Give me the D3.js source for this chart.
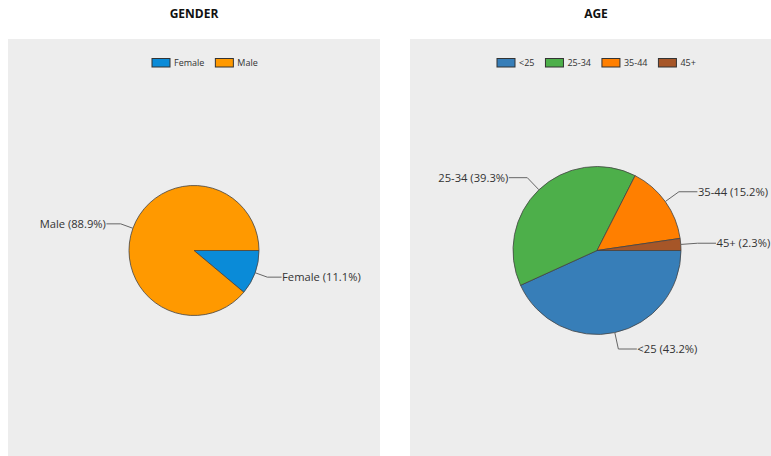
<!DOCTYPE html>
<html>
<head>
<meta charset="utf-8">
<script src="https://cdn.jsdelivr.net/npm/d3@7"></script>
<style>
  body { margin: 0; background: #fff; }
  text { font-family: "Open Sans", "Noto Sans", sans-serif; }
</style>
</head>
<body>
<div id="chart"></div>
<script>
// data
var genderLabels = ["Female", "Male"];
var genderValues = [11.1, 88.9];
var genderColors = ["#0a8bd8", "#ff9900"];

var ageLabels = ["<25", "25-34", "35-44", "45+"];
var ageValues = [43.2, 39.3, 15.2, 2.3];
var ageColors = ["#377eb8", "#4daf4a", "#ff7f00", "#a65628"];

var W = 771, H = 456;

var svg = d3.select("#chart")
  .append("svg")
  .attr("width", W)
  .attr("height", H);

// one panel = title + grey box + legend + pie with leader labels
function drawPanel(opt) {
  var g = svg.append("g");

  g.append("rect")
    .attr("x", opt.x)
    .attr("y", 39)
    .attr("width", opt.w)
    .attr("height", H - 39)
    .attr("fill", "#ededed");

  g.append("text")
    .attr("x", opt.x + opt.w / 2)
    .attr("y", 18)
    .attr("text-anchor", "middle")
    .attr("font-size", "12px")
    .attr("font-weight", "bold")
    .attr("fill", "#111")
    .text(opt.title);

  // legend
  var leg = g.append("g").attr("transform", "translate(" + opt.legendX + ",58.5)");
  var lx = 0;
  opt.labels.forEach(function(l, i) {
    leg.append("rect")
      .attr("x", lx)
      .attr("y", 0)
      .attr("width", 18)
      .attr("height", 8.5)
      .attr("fill", opt.colors[i])
      .attr("stroke", "#333")
      .attr("stroke-width", 1);
    var t = leg.append("text")
      .attr("x", lx + 22)
      .attr("y", 7.5)
      .attr("font-size", "9px")
      .attr("fill", "#333")
      .text(l);
    lx += 22 + t.node().getComputedTextLength() + 11;
  });

  // pie
  var data = opt.labels.map(function(l, i) { return {label: l, value: opt.values[i]}; });
  var pie = d3.pie()
    .value(function(d) { return d.value; })
    .sort(null)
    .startAngle(Math.PI / 2)
    .endAngle(Math.PI / 2 + 2 * Math.PI);
  var arcs = pie(data);
  var r = opt.r;
  var arc = d3.arc().innerRadius(0).outerRadius(r);

  var pg = g.append("g").attr("transform", "translate(" + opt.cx + "," + opt.cy + ")");

  pg.selectAll("path.slice")
    .data(arcs)
    .enter()
    .append("path")
    .attr("class", "slice")
    .attr("d", arc)
    .attr("fill", function(d, i) { return opt.colors[i]; })
    .attr("stroke", "#444")
    .attr("stroke-width", 0.8);

  var hlen = r * 0.22;
  arcs.forEach(function(d) {
    var a = (d.startAngle + d.endAngle) / 2;
    var sx = Math.sin(a), sy = -Math.cos(a);
    var p0 = [sx * r, sy * r];
    var p1 = [sx * r * 1.2, sy * r * 1.2];
    var dir = sx >= 0 ? 1 : -1;
    var p2 = [p1[0] + dir * hlen, p1[1]];
    pg.append("polyline")
      .attr("points", [p0, p1, p2].map(function(p) { return p.join(","); }).join(" "))
      .attr("fill", "none")
      .attr("stroke", "#666")
      .attr("stroke-width", 1);
    pg.append("text")
      .attr("x", p2[0] + dir * 0.5)
      .attr("y", p2[1])
      .attr("dy", "0.35em")
      .attr("text-anchor", dir > 0 ? "start" : "end")
      .attr("font-size", "11.2px")
      .attr("fill", "#333")
      .text(d.data.label + " (" + d.data.value.toFixed(1) + "%)");
  });
}

drawPanel({
  title: "GENDER", x: 8, w: 372,
  labels: genderLabels, values: genderValues, colors: genderColors,
  legendX: 152, cx: 194, cy: 250.5, r: 65
});

drawPanel({
  title: "AGE", x: 410, w: 372,
  labels: ageLabels, values: ageValues, colors: ageColors,
  legendX: 497, cx: 597, cy: 250.5, r: 84
});
</script>
</body>
</html>
